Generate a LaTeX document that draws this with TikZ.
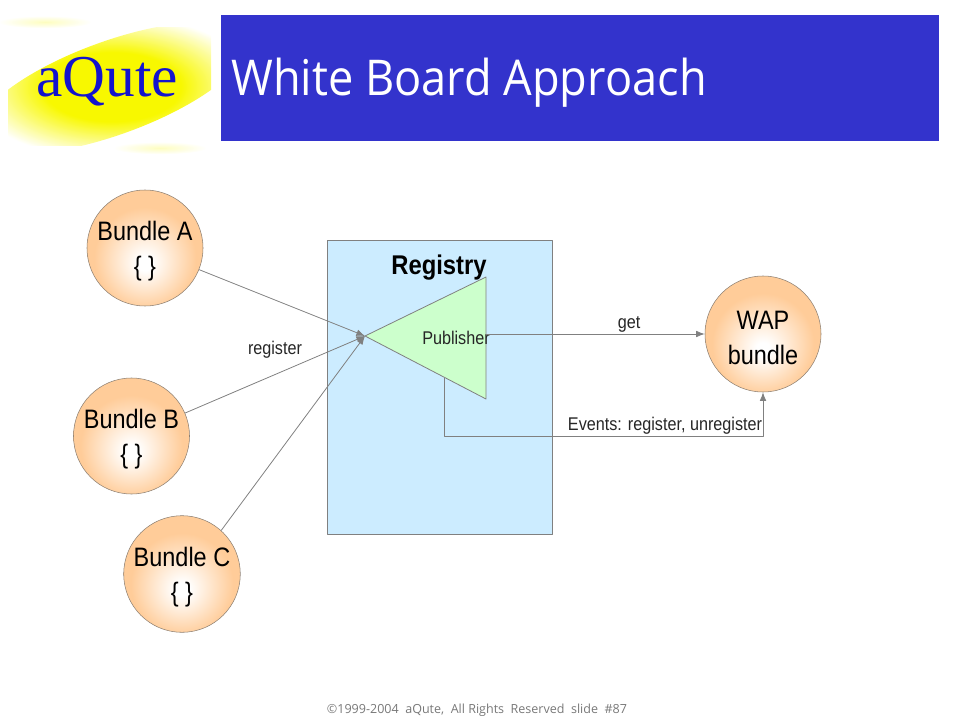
\documentclass[tikz,border=0pt]{standalone}
\usepackage{fontspec}
\usetikzlibrary{arrows.meta,shapes.geometric}
\setmainfont{Liberation Sans}
\newfontfamily\narrowfont[FakeStretch=0.88]{Liberation Sans}
\newfontfamily\titlefont[FakeStretch=0.915]{Open Sans}
\newfontfamily\footfont{Open Sans}
\newfontfamily\logofont{Liberation Serif}
\definecolor{titleblue}{RGB}{51,51,204}
\definecolor{logoblue}{RGB}{20,20,205}
\definecolor{logoyellow}{RGB}{248,248,0}
\definecolor{bundleorange}{RGB}{255,204,153}
\definecolor{regblue}{RGB}{204,236,255}
\definecolor{pubgreen}{RGB}{204,255,204}
\definecolor{linegray}{RGB}{128,128,128}
\definecolor{footgray}{RGB}{120,120,120}
\pgfdeclareradialshading{bundleshade}{\pgfpoint{0bp}{-7bp}}{color(0bp)=(white); color(3bp)=(white); color(22bp)=(bundleorange); color(60bp)=(bundleorange)}
\pgfdeclareradialshading{logoshade}{\pgfpoint{0bp}{0bp}}{color(0bp)=(logoyellow); color(12bp)=(logoyellow); color(25bp)=(white); color(50bp)=(white)}
\pgfdeclareradialshading{faintshade}{\pgfpoint{0bp}{0bp}}{color(0bp)=(logoyellow!25); color(25bp)=(white); color(50bp)=(white)}
\newcommand\bundlepad{\rule{0pt}{19pt}}
\tikzset{
  bundle/.style={circle, draw=linegray!90!orange, shading=bundleshade, minimum size=87pt, inner sep=0pt,
    align=center, font=\narrowfont\fontsize{20}{26.3}\selectfont, text=black},
  link/.style={draw=linegray, line width=0.6pt, -{Latex[length=6.5pt,width=5pt]}},
  smalltext/.style={font=\narrowfont\fontsize{13.8}{15}\selectfont, text=black!85, inner sep=0pt},
}
\begin{document}
\begin{tikzpicture}[x=0.75pt,y=-0.75pt,line join=round]
	\useasboundingbox (0,0) rectangle (960,720);
	% logo
	\begin{scope}
		\clip (8,28) rectangle (211,146);
		\node[ellipse, shading=logoshade, rotate=20, minimum width=215pt, minimum height=70pt] (logoglow) at (112,88) {};
	\end{scope}
	\node[ellipse, shading=faintshade, minimum width=70pt, minimum height=8pt] (faintA) at (45,22) {};
	\node[ellipse, shading=faintshade, minimum width=70pt, minimum height=8pt] (faintB) at (160,148) {};
	\node[font=\logofont\fontsize{44.5}{44.5}\selectfont, text=logoblue, inner sep=0pt] (logotext) at (107,82) {aQute};
	% title bar
	\fill[titleblue] (221,15) rectangle (939,141);
	\node[font=\titlefont\fontsize{37}{37}\selectfont, text=white, anchor=base west, inner sep=0pt] (title) at (231,96) {White Board Approach};
	% registry
	\filldraw[fill=regblue, draw=linegray, line width=0.6pt] (327.5,240.5) rectangle (552.5,534.5);
	\node[font=\narrowfont\bfseries\fontsize{20.3}{20}\selectfont, inner sep=0pt] (registry) at (439,268) {Registry};
	\coordinate (pubtip) at (365,336);
	\coordinate (pubtop) at (486,277);
	\coordinate (pubend) at (486,399);
	\coordinate (pubout) at (486,334);
	\coordinate (pubfoot) at (444,378);
	\filldraw[fill=pubgreen, draw=linegray, line width=0.6pt] (pubtip) -- (pubtop) -- (pubend) -- cycle;
	\node[smalltext] (publisher) at (456,338) {Publisher};
	% bundles
	\node[bundle] (bundleA) at (145,248) {\bundlepad Bundle A\\\{ \}};
	\node[bundle] (bundleB) at (131.5,436) {\bundlepad Bundle B\\\{ \}};
	\node[bundle] (bundleC) at (182,574) {\bundlepad Bundle C\\\{ \}};
	\node[bundle] (wap) at (763,334) {\bundlepad WAP\\bundle};
	% connectors
	\draw[link] (bundleA) -- (pubtip);
	\draw[link] (bundleB) -- (pubtip);
	\draw[link] (bundleC.48) -- (pubtip);
	\draw[link] (pubout) -- (wap);
	\draw[link] (pubfoot) -- (444,436) -| (wap.south);
	% labels
	\node[smalltext] (register) at (275,350) {register};
	\node[smalltext] (get) at (629,324) {get};
	\node[smalltext] (events) at (665,425.5) {Events: register, unregister};
	\node[font=\footfont\fontsize{9.4}{9.4}\selectfont, text=footgray, inner sep=0pt] (footer) at (477,710.5) {©1999-2004~ aQute,~ All Rights~ Reserved~ slide~ \#87};
\end{tikzpicture}
\end{document}
